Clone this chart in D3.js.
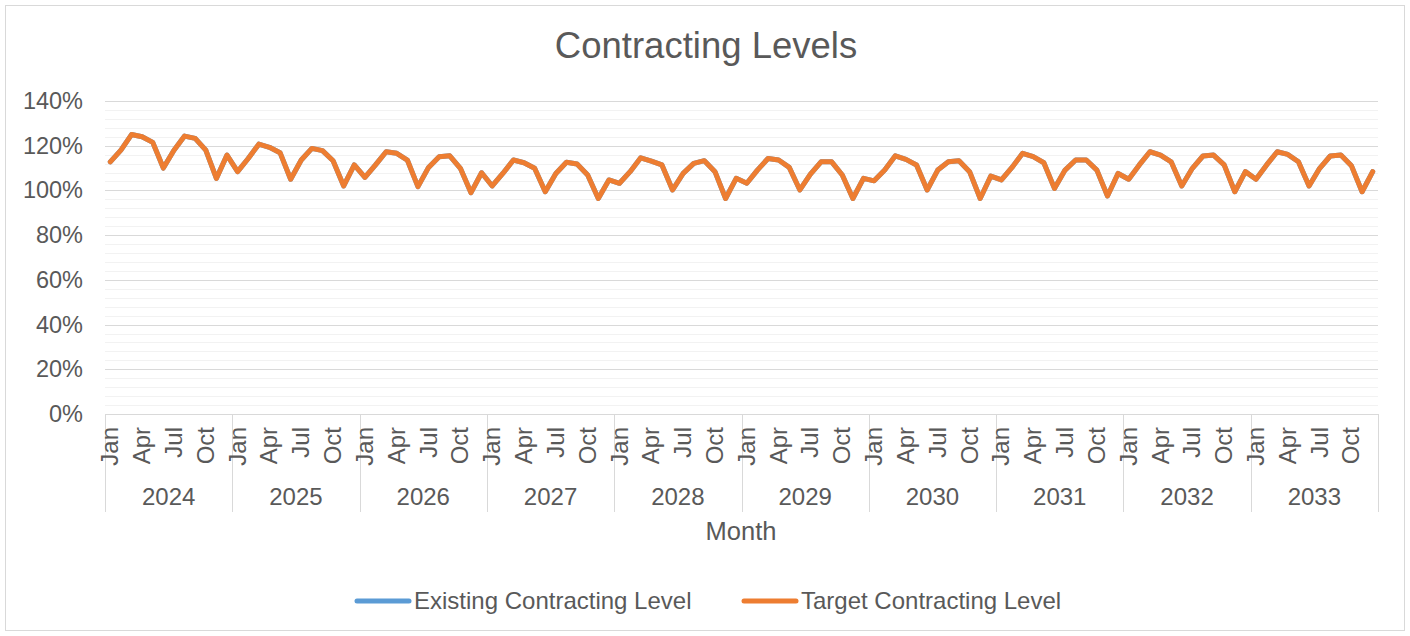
<!DOCTYPE html>
<html><head><meta charset="utf-8">
<script src="https://cdn.jsdelivr.net/npm/d3@7/dist/d3.min.js"></script>
<style>body{margin:0;background:#fff;font-family:Arial,"Liberation Sans",sans-serif}</style>
</head><body>
<svg id="c" width="1410" height="636"></svg>
<script>
const years = ["2024","2025","2026","2027","2028","2029","2030","2031","2032","2033"];
const months = ["Jan","Feb","Mar","Apr","May","Jun","Jul","Aug","Sep","Oct","Nov","Dec"];
const monthTickLabels = ["Jan","Apr","Jul","Oct"];
const yTicks = [0,0.2,0.4,0.6,0.8,1.0,1.2,1.4];
const seriesNames = ["Existing Contracting Level","Target Contracting Level"];
const seriesColors = ["#5B9BD5","#ED7D31"];
const targetLevel = [
 1.128,1.180,1.250,1.240,1.215,1.100,1.180,1.243,1.233,1.180,1.054,1.158,
 1.084,1.143,1.207,1.193,1.169,1.050,1.136,1.188,1.178,1.133,1.020,1.114,
 1.058,1.114,1.173,1.166,1.136,1.017,1.103,1.151,1.155,1.099,0.990,1.079,
 1.020,1.076,1.136,1.124,1.099,0.994,1.076,1.126,1.118,1.069,0.964,1.047,
 1.032,1.084,1.146,1.131,1.114,1.002,1.076,1.121,1.133,1.084,0.964,1.054,
 1.032,1.091,1.143,1.136,1.103,1.002,1.073,1.128,1.128,1.069,0.964,1.054,
 1.043,1.091,1.155,1.139,1.114,1.002,1.091,1.128,1.133,1.084,0.964,1.064,
 1.047,1.103,1.166,1.151,1.124,1.009,1.091,1.136,1.136,1.091,0.975,1.076,
 1.050,1.114,1.173,1.158,1.128,1.020,1.099,1.154,1.158,1.114,0.994,1.084,
 1.050,1.114,1.173,1.161,1.128,1.020,1.099,1.154,1.158,1.110,0.994,1.084
];
const existingLevel = targetLevel.slice();

const cats = [];
years.forEach(y => months.forEach(m => cats.push(y + "-" + m)));

const svg = d3.select("#c");
const W = 1410, H = 636;
const L = 105, R = 1378, T = 101, B = 414;
const txt = "#595959";

svg.append("rect").attr("x",5.5).attr("y",5.5).attr("width",W-11).attr("height",H-11)
  .attr("fill","#fff").attr("stroke","#d9d9d9").attr("stroke-width",1);

const x = d3.scaleBand().domain(cats).range([L,R]).paddingInner(0).paddingOuter(0);
const y = d3.scaleLinear().domain([0,1.4]).range([B,T]);

// minor grid
const minor = d3.range(0,1.4001,0.04).filter(v => Math.abs(Math.round(v*100)%20) > 0.5);
svg.append("g").selectAll("line").data(minor).join("line")
  .attr("x1",L).attr("x2",R).attr("y1",d=>Math.round(y(d))+0.5).attr("y2",d=>Math.round(y(d))+0.5)
  .attr("stroke","#f2f2f2").attr("stroke-width",1);
// major grid
svg.append("g").selectAll("line").data(yTicks.filter(d=>d>0)).join("line")
  .attr("x1",L).attr("x2",R).attr("y1",d=>Math.round(y(d))+0.5).attr("y2",d=>Math.round(y(d))+0.5)
  .attr("stroke","#d9d9d9").attr("stroke-width",1);

// y axis labels
const yAxis = d3.axisLeft(y).tickValues(yTicks).tickFormat(d3.format(".0%")).tickSize(0).tickPadding(22);
const yg = svg.append("g").attr("transform",`translate(${L},0)`).call(yAxis);
yg.select(".domain").remove();
yg.selectAll("text").attr("font-size","23.5px").attr("fill",txt).attr("font-family","Arial,'Liberation Sans',sans-serif");

// x axis line
svg.append("line").attr("x1",L).attr("x2",R).attr("y1",B+0.5).attr("y2",B+0.5).attr("stroke","#d9d9d9");

// year separators
const yearBounds = years.map(yr => x(yr+"-Jan")).concat([R]);
svg.append("g").selectAll("line").data(yearBounds).join("line")
  .attr("x1",d=>Math.round(d)+0.5).attr("x2",d=>Math.round(d)+0.5).attr("y1",B).attr("y2",512)
  .attr("stroke","#d9d9d9");

// month labels
const mlab = cats.filter(c => monthTickLabels.includes(c.split("-")[1]));
svg.append("g").selectAll("text").data(mlab).join("text")
  .attr("transform",d=>`translate(${x(d)+x.bandwidth()/2+8},${B+13}) rotate(-90)`)
  .attr("text-anchor","end").attr("font-size","24px").attr("fill",txt)
  .text(d=>d.split("-")[1]);

// year labels
svg.append("g").selectAll("text").data(years).join("text")
  .attr("x",d=>x(d+"-Jan") + x.bandwidth()*6).attr("y",505)
  .attr("text-anchor","middle").attr("font-size","24px").attr("fill",txt).text(d=>d);

// axis title
svg.append("text").attr("x",741).attr("y",540).attr("text-anchor","middle")
  .attr("font-size","25.5px").attr("fill",txt).text("Month");

// title
svg.append("text").attr("x",706).attr("y",58).attr("text-anchor","middle")
  .attr("font-size","36.5px").attr("fill",txt).text("Contracting Levels");

// lines
const line = d3.line().x((d,i)=>x(cats[i])+x.bandwidth()/2).y(d=>y(d));
[existingLevel,targetLevel].forEach((s,k)=>{
  svg.append("path").datum(s).attr("d",line).attr("fill","none")
    .attr("stroke",seriesColors[k]).attr("stroke-width",5)
    .attr("stroke-linejoin","round").attr("stroke-linecap","round");
});

// legend
const legX = [357, 744];
seriesNames.forEach((n,k)=>{
  svg.append("line").attr("x1",legX[k]).attr("x2",legX[k]+52).attr("y1",601).attr("y2",601)
    .attr("stroke",seriesColors[k]).attr("stroke-width",5).attr("stroke-linecap","round");
  svg.append("text").attr("x",legX[k]+57).attr("y",609).attr("font-size","24px")
    .attr("fill",txt).text(n);
});
</script>
</body></html>
